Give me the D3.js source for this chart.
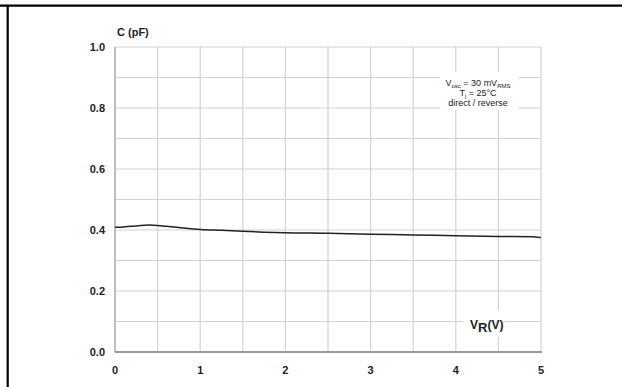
<!DOCTYPE html>
<html><head><meta charset="utf-8">
<script src="https://cdn.jsdelivr.net/npm/d3@7"></script>
<style>body{margin:0;background:#fff}svg{display:block}</style>
</head><body>
<script>
const voltage = [0, 0.1, 0.2, 0.3, 0.4, 0.5, 0.6, 0.75, 1.0, 1.25, 1.5, 1.75, 2.0, 2.5, 3.0, 3.5, 4.0, 4.5, 4.9, 5.0];
const capacitance = [0.409, 0.410, 0.412, 0.415, 0.416, 0.415, 0.412, 0.408, 0.402, 0.399, 0.396, 0.393, 0.391, 0.389, 0.386, 0.384, 0.381, 0.379, 0.378, 0.375];
const xTicks = [0, 1, 2, 3, 4, 5];
const yTicks = [0.0, 0.2, 0.4, 0.6, 0.8, 1.0];
const xGrid = d3.range(0, 5.01, 0.5);
const yGrid = d3.range(0, 1.001, 0.1);

const W = 622, H = 387;
const svg = d3.select("body").append("svg").attr("width", W).attr("height", H);
const font = "'Liberation Sans', Arial, sans-serif";

// frame
svg.append("line").attr("x1", 0).attr("x2", W).attr("y1", 5.7).attr("y2", 5.7).attr("stroke", "#000").attr("stroke-width", 2.2);
svg.append("line").attr("x1", 7.7).attr("x2", 7.7).attr("y1", 5).attr("y2", H).attr("stroke", "#000").attr("stroke-width", 2.2);

const x = d3.scaleLinear().domain([0, 5]).range([115, 541]);
const y = d3.scaleLinear().domain([0, 1]).range([352, 47]);

// grid
svg.append("g").selectAll("line").data(xGrid).join("line")
  .attr("x1", d => x(d)).attr("x2", d => x(d)).attr("y1", y(1)).attr("y2", y(0))
  .attr("stroke", "#d2d2d2").attr("stroke-width", 1.2);
svg.append("g").selectAll("line").data(yGrid).join("line")
  .attr("x1", x(0)).attr("x2", x(5)).attr("y1", d => y(d)).attr("y2", d => y(d))
  .attr("stroke", "#d2d2d2").attr("stroke-width", 1.2);
// left axis line
svg.append("line").attr("x1", x(0)).attr("x2", x(0)).attr("y1", y(1)).attr("y2", y(0))
  .attr("stroke", "#aaa").attr("stroke-width", 1.3);
// bottom axis line
svg.append("line").attr("x1", x(0)).attr("x2", x(5) + 1).attr("y1", y(0)).attr("y2", y(0))
  .attr("stroke", "#999").attr("stroke-width", 2);

// white boxes behind labels
svg.append("rect").attr("x", 440).attr("y", 72).attr("width", 79).attr("height", 38).attr("fill", "#fff");
svg.append("rect").attr("x", 463).attr("y", 310).attr("width", 40).attr("height", 27).attr("fill", "#fff");

// curve
const line = d3.line().x((d, i) => x(voltage[i])).y(d => y(d)).curve(d3.curveMonotoneX);
svg.append("path").datum(capacitance).attr("d", line)
  .attr("fill", "none").attr("stroke", "#222").attr("stroke-width", 1.5);

// tick labels
svg.append("g").selectAll("text").data(yTicks).join("text")
  .attr("x", 105).attr("y", d => y(d)).attr("dy", "0.35em")
  .attr("text-anchor", "end").attr("font-family", font).attr("font-weight", "bold")
  .attr("font-size", 11).attr("fill", "#222").text(d => d.toFixed(1));
svg.append("g").selectAll("text").data(xTicks).join("text")
  .attr("x", d => x(d)).attr("y", 370).attr("dy", "0.35em")
  .attr("text-anchor", "middle").attr("font-family", font).attr("font-weight", "bold")
  .attr("font-size", 11).attr("fill", "#222").text(d => d);

// axis titles
svg.append("text").attr("x", 117).attr("y", 36).attr("font-family", font).attr("font-weight", "bold")
  .attr("font-size", 11).attr("fill", "#222").text("C (pF)");
const vr = svg.append("text").attr("x", 470).attr("y", 329).attr("font-family", font).attr("font-weight", "bold")
  .attr("font-size", 12).attr("fill", "#222");
vr.append("tspan").text("V");
vr.append("tspan").attr("dy", 3).attr("font-size", 13).text("R");
vr.append("tspan").attr("dy", -3).attr("font-size", 12).text("(V)");

// annotation
const ann = svg.append("g").attr("font-family", font).attr("font-size", 9).attr("fill", "#222").attr("text-anchor", "middle");
const t1 = ann.append("text").attr("x", 478).attr("y", 86);
t1.append("tspan").text("V");
t1.append("tspan").attr("font-size", 6).attr("dy", 2).text("osc");
t1.append("tspan").attr("dy", -2).text(" = 30 mV");
t1.append("tspan").attr("font-size", 6).attr("dy", 2).text("RMS");
const t2 = ann.append("text").attr("x", 478).attr("y", 96);
t2.append("tspan").text("T");
t2.append("tspan").attr("font-size", 6).attr("dy", 2).text("j");
t2.append("tspan").attr("dy", -2).text(" = 25°C");
ann.append("text").attr("x", 478).attr("y", 106).text("direct / reverse");
</script>
</body></html>
